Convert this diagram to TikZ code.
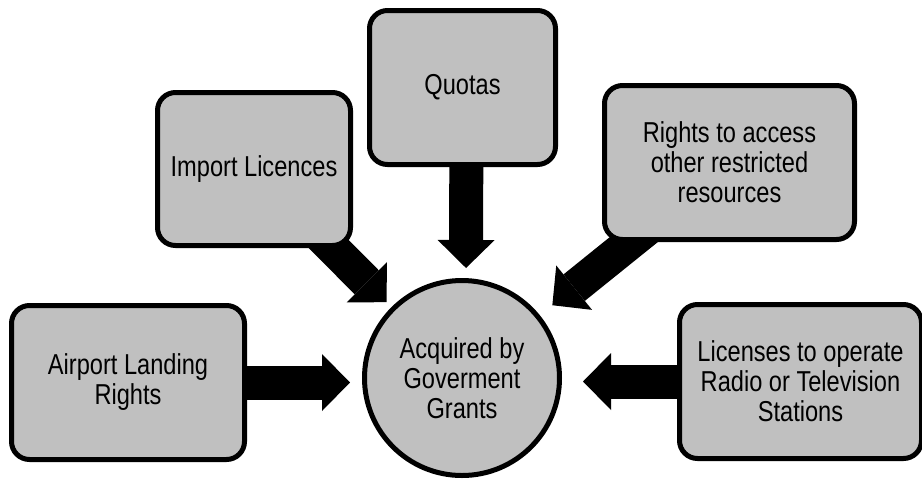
\documentclass[tikz,border=0pt]{standalone}
\usepackage{fontspec}
\setmainfont{Liberation Sans}[FakeStretch=0.82]
\usepackage{tikz}
\usetikzlibrary{arrows.meta, backgrounds}
\definecolor{grantgrey}{HTML}{C0C0C0}

\begin{document}
\begin{tikzpicture}[x=0.5pt, y=-0.5pt, font=\fontsize{14.4pt}{15pt}\selectfont,
    box/.style={draw, line width=2.5pt, fill=grantgrey, rounded corners=9pt,
                minimum height=77pt, align=center, inner sep=2pt},
    hubnode/.style={draw, circle, line width=2.5pt, fill=grantgrey,
                minimum size=97.5pt, align=center, inner sep=0pt},
    fat/.style={line width=17pt, -{Triangle[width=28.5pt, length=14pt, line width=0pt]}}]
  \useasboundingbox (0,0) rectangle (922,483);
  % centre
  \node[hubnode] (hub) at (462,378) {Acquired by\\Goverment\\Grants};
  % boxes
  \node[box, minimum width=116.5pt] (air) at (128,382.5) {Airport Landing\\Rights};
  \node[box, minimum width=96.5pt, minimum height=76.5pt] (imp) at (254,169) {Import Licences};
  \node[box, minimum width=93pt] (quo) at (462.5,87.5) {Quotas};
  \node[box, minimum width=125pt] (rig) at (729.5,162.5) {Rights to access\\other restricted\\resources};
  \node[box, minimum width=121pt] (lic) at (800.5,381.5) {Licenses to operate\\Radio or Television\\Stations};
  % arrows
  \begin{scope}[on background layer]
    \draw[fat, shorten >=6pt] (air.center) -- (air.center -| hub.west);
    \draw[fat, shorten >=10.5pt] (lic.center) -- (lic.center -| hub.east);
    \draw[fat, shorten >=5pt] ([xshift=2pt]quo.center) -- ([xshift=2pt]hub.north);
    \draw[fat, shorten >=3.5pt] (imp.center) -- (hub);
    \draw[fat, shorten >=8pt] (rig.center) -- (hub);
  \end{scope}
\end{tikzpicture}
\end{document}
